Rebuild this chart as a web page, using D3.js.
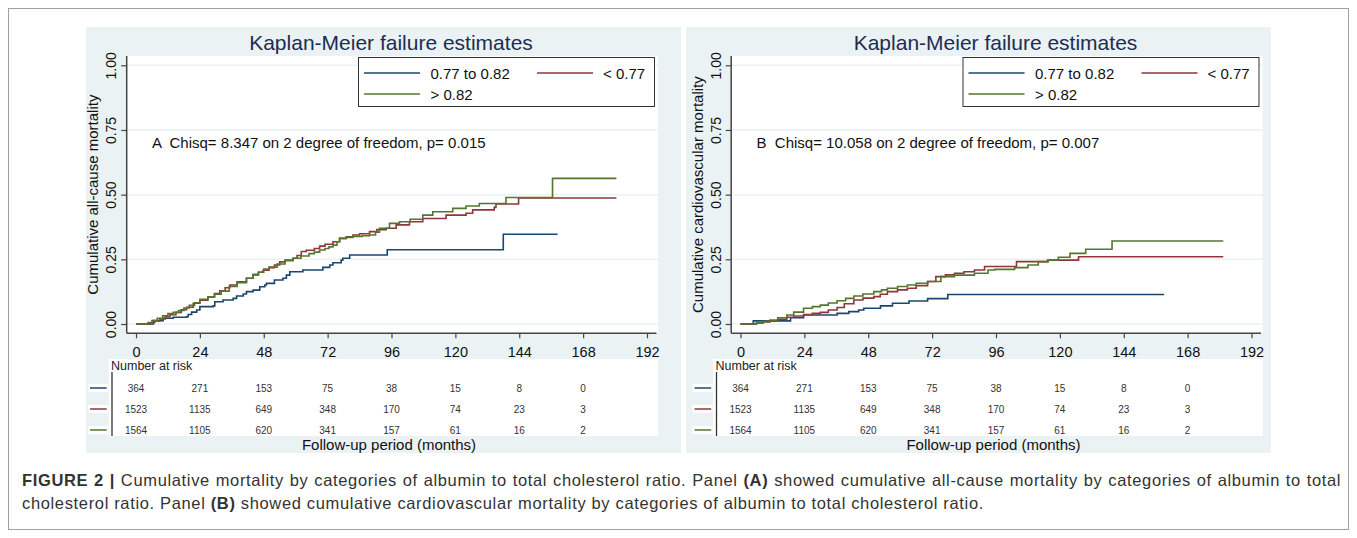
<!DOCTYPE html>
<html>
<head>
<meta charset="utf-8">
<script src="https://cdn.jsdelivr.net/npm/d3@7"></script>
<style>
  body { margin: 0; background: #fff; }
  svg text { font-family: "Liberation Sans", Arial, sans-serif; white-space: pre; }
</style>
</head>
<body>
<div id="chart"></div>
<script>
// Ticks and groups
const xTicks = [0, 24, 48, 72, 96, 120, 144, 168, 192];
const yTicks = [0, 0.25, 0.5, 0.75, 1];
const groupNames = ["0.77 to 0.82", "< 0.77", "> 0.82"];

// Number at risk (same in both panels)
const riskTimes = [0, 24, 48, 72, 96, 120, 144, 168];
const riskMid = [364, 271, 153, 75, 38, 15, 8, 0];
const riskLow = [1523, 1135, 649, 348, 170, 74, 23, 3];
const riskHigh = [1564, 1105, 620, 341, 157, 61, 16, 2];

// Panel A: all-cause mortality, [month, cumulative failure]
const allMid = [[0,0],[4.6,0],[6.5,0.013],[10.2,0.022],[14,0.026],[19,0.028],[19.6,0.037],[20.9,0.046],[22.8,0.054],[24,0.067],[29,0.07],[29.6,0.086],[32.7,0.093],[36.5,0.099],[37.8,0.108],[40.3,0.116],[41.5,0.125],[44,0.131],[46.5,0.144],[48.4,0.151],[49,0.157],[52,0.17],[55.2,0.177],[56.5,0.189],[57.8,0.202],[62.7,0.209],[70.2,0.219],[72.8,0.228],[74,0.237],[77.1,0.247],[77.7,0.254],[80.3,0.267],[94.4,0.287],[138,0.347],[158.4,0.347]];
const allLow = [[0,0],[3.4,0],[5.25,0.005],[7,0.012],[9,0.02],[11,0.028],[12.75,0.036],[15,0.045],[17,0.055],[19,0.065],[21.5,0.08],[24,0.092],[27,0.105],[29.5,0.118],[31.5,0.128],[33.5,0.14],[35.25,0.151],[38,0.163],[41.5,0.177],[44,0.19],[46,0.2],[47.75,0.208],[50,0.218],[52,0.228],[54,0.24],[56,0.247],[59,0.254],[60.5,0.265],[62.1,0.28],[64,0.285],[67,0.292],[69,0.301],[71,0.308],[74,0.318],[76.5,0.331],[79,0.337],[81.5,0.344],[84,0.349],[87.75,0.357],[90.5,0.365],[94,0.37],[97.75,0.383],[102.75,0.395],[107.75,0.408],[116.5,0.421],[124,0.428],[126.5,0.441],[134.6,0.451],[135.25,0.464],[143.75,0.487],[180.5,0.487]];
const allHigh = [[0,0],[2.5,0],[4.5,0.006],[6,0.013],[8,0.022],[10,0.032],[12,0.04],[14,0.045],[16,0.052],[18,0.062],[20,0.072],[22,0.082],[24,0.095],[27,0.105],[29.5,0.115],[32,0.127],[35,0.145],[38,0.16],[41.5,0.177],[44,0.192],[46,0.2],[48,0.212],[50,0.22],[53,0.232],[56,0.245],[59,0.254],[62,0.263],[65,0.272],[67,0.278],[69,0.286],[71,0.292],[72.5,0.298],[74,0.305],[75.5,0.318],[76.5,0.331],[79,0.335],[81.5,0.338],[85,0.341],[87.75,0.344],[90,0.355],[91.5,0.37],[95.25,0.389],[99,0.395],[103,0.405],[107.75,0.421],[111.5,0.434],[119,0.447],[124,0.456],[129,0.466],[139,0.489],[156.5,0.563],[180.5,0.563]];

// Panel B: cardiovascular mortality
const cvdMid = [[0,0],[3.5,0],[4.8,0.012],[18.8,0.024],[23.7,0.035],[36.3,0.041],[40.7,0.048],[44.4,0.054],[46.3,0.061],[52.6,0.07],[57.1,0.08],[63.3,0.089],[70.3,0.098],[77.9,0.114],[159.2,0.114]];
const cvdLow = [[0,0],[3.5,0],[6,0.004],[8.5,0.008],[11.1,0.012],[14,0.018],[17.4,0.026],[20,0.031],[23.7,0.037],[27,0.041],[30,0.045],[33,0.054],[36.3,0.064],[39,0.078],[42.6,0.093],[46,0.1],[50.1,0.106],[52.5,0.115],[55.2,0.125],[59,0.132],[62.7,0.138],[66,0.148],[70.3,0.164],[73.4,0.183],[77,0.19],[80.4,0.196],[84,0.202],[87.9,0.209],[91.7,0.222],[103.7,0.241],[115.4,0.247],[127,0.26],[181.4,0.26]];
const cvdHigh = [[0,0],[3.5,0],[6,0.005],[8.5,0.01],[11.1,0.015],[14,0.024],[17.4,0.035],[20,0.046],[23.7,0.061],[27,0.067],[30,0.073],[33,0.081],[36.3,0.09],[39.5,0.099],[42.6,0.108],[46,0.116],[50.1,0.125],[53,0.132],[55.2,0.138],[59,0.145],[62.7,0.151],[66,0.157],[70.3,0.164],[75.3,0.183],[80.4,0.189],[87.9,0.196],[93,0.209],[95.5,0.211],[103,0.218],[108,0.228],[111.9,0.241],[115.6,0.247],[119.4,0.258],[123.8,0.273],[129.7,0.289],[139.6,0.321],[181.4,0.321]];

const colors = ["#1a476f", "#90353b", "#55752f"];
const bg = "#eaf2f3";

const svg = d3.select("#chart").append("svg")
    .attr("width", 1357)
    .attr("height", 538);

// outer frame
svg.append("rect")
    .attr("x", 8.5).attr("y", 8.5)
    .attr("width", 1340).attr("height", 521)
    .attr("fill", "none").attr("stroke", "#a0a0a0");

// panel backgrounds
svg.append("rect").attr("x", 86).attr("y", 27).attr("width", 595).attr("height", 426).attr("fill", bg);
svg.append("rect").attr("x", 686).attr("y", 27).attr("width", 585).attr("height", 426).attr("fill", bg);

function drawPanel(dx, yTitle, note, series) {
    const g = svg.append("g").attr("transform", `translate(${dx},0)`);

    const x = d3.scaleLinear().domain([0, 192]).range([136, 647]);
    const y = d3.scaleLinear().domain([0, 1]).range([324, 65.3]);
    const left = 126.7, right = 658, top = 56, bottom = 333.3;

    // plot region
    g.append("rect")
        .attr("x", left).attr("y", top)
        .attr("width", right - left).attr("height", bottom - top)
        .attr("fill", "#fff");

    g.selectAll(".grid")
        .data(yTicks)
        .enter().append("line")
        .attr("x1", left).attr("x2", right)
        .attr("y1", d => y(d)).attr("y2", d => y(d))
        .attr("stroke", bg).attr("stroke-width", 1.5);

    // title
    g.append("text")
        .attr("x", 391).attr("y", 50)
        .attr("text-anchor", "middle")
        .style("font-size", "21px")
        .attr("fill", "#1c2e52")
        .text("Kaplan-Meier failure estimates");

    // curves
    const line = d3.line()
        .x(d => x(d[0]))
        .y(d => y(d[1]))
        .curve(d3.curveStepAfter);

    series.forEach((s, i) => {
        g.append("path")
            .datum(s)
            .attr("d", line)
            .attr("fill", "none")
            .attr("stroke", colors[i])
            .attr("stroke-width", 1.6);
    });

    // axes
    const yAxis = g.append("g")
        .attr("transform", `translate(${left},0)`)
        .call(d3.axisLeft(y).tickValues(yTicks).tickFormat(d3.format(".2f")).tickSize(5.5));
    yAxis.select(".domain").remove();
    yAxis.selectAll(".tick line").attr("stroke", "#444").attr("stroke-width", 1.2);
    yAxis.selectAll(".tick text")
        .attr("transform", "rotate(-90)")
        .attr("x", 0).attr("y", -10.5).attr("dy", 0)
        .attr("text-anchor", "middle")
        .attr("fill", "#111")
        .style("font-size", "14px")
        .style("font-family", "Liberation Sans, Arial, sans-serif");

    const xAxis = g.append("g")
        .attr("transform", `translate(0,${bottom})`)
        .call(d3.axisBottom(x).tickValues(xTicks).tickSize(5));
    xAxis.select(".domain").remove();
    xAxis.selectAll(".tick line").attr("stroke", "#444").attr("stroke-width", 1.2);
    xAxis.selectAll(".tick text")
        .attr("y", 23.5).attr("dy", 0)
        .attr("fill", "#111")
        .style("font-size", "14.5px")
        .style("font-family", "Liberation Sans, Arial, sans-serif");

    g.append("line")
        .attr("x1", left).attr("x2", left).attr("y1", top).attr("y2", bottom)
        .attr("stroke", "#444").attr("stroke-width", 1.5);
    g.append("line")
        .attr("x1", left).attr("x2", right - 1.5).attr("y1", bottom).attr("y2", bottom)
        .attr("stroke", "#444").attr("stroke-width", 1.5);

    // y title
    g.append("text")
        .attr("transform", `translate(98,${(top + bottom) / 2}) rotate(-90)`)
        .attr("text-anchor", "middle")
        .style("font-size", "15px")
        .attr("fill", "#111")
        .text(yTitle);

    // chi-square note
    g.append("text")
        .attr("x", 152).attr("y", 148)
        .style("font-size", "15px")
        .attr("fill", "#111")
        .text(note);

    // legend
    g.append("rect")
        .attr("x", 358.5).attr("y", 57.5)
        .attr("width", 296).attr("height", 49)
        .attr("fill", "#fff").attr("stroke", "#333").attr("stroke-width", 1);
    const keys = [
        { lx: 364, ty: 73, tx: 430.5 },
        { lx: 537, ty: 73, tx: 603 },
        { lx: 364, ty: 94, tx: 430.5 }
    ];
    keys.forEach((k, i) => {
        g.append("line")
            .attr("x1", k.lx).attr("x2", k.lx + 56)
            .attr("y1", k.ty).attr("y2", k.ty)
            .attr("stroke", colors[i]).attr("stroke-width", 1.6);
        g.append("text")
            .attr("x", k.tx).attr("y", k.ty + 5.5)
            .style("font-size", "15px")
            .attr("fill", "#111")
            .text(groupNames[i]);
    });

    // number at risk table
    g.append("rect")
        .attr("x", 108.7).attr("y", 359)
        .attr("width", 549.5).attr("height", 77)
        .attr("fill", "#fff");
    g.append("text")
        .attr("x", 111).attr("y", 369.5)
        .style("font-size", "12.5px")
        .attr("fill", "#222")
        .text("Number at risk");
    g.append("line")
        .attr("x1", 112).attr("x2", 112).attr("y1", 372).attr("y2", 436)
        .attr("stroke", "#333").attr("stroke-width", 1.3);

    const rows = [riskMid, riskLow, riskHigh];
    const rowY = [388, 409, 430];
    rows.forEach((r, i) => {
        g.append("rect")
            .attr("x", 88).attr("y", rowY[i] - 4)
            .attr("width", 20).attr("height", 8)
            .attr("fill", "#fff");
        g.append("line")
            .attr("x1", 90).attr("x2", 106.7)
            .attr("y1", rowY[i]).attr("y2", rowY[i])
            .attr("stroke", colors[i]).attr("stroke-width", 1.5);
        g.selectAll(null)
            .data(r)
            .enter().append("text")
            .attr("x", (d, j) => x(riskTimes[j]))
            .attr("y", rowY[i] + 3.6)
            .attr("text-anchor", "middle")
            .style("font-size", "10px")
            .attr("fill", "#333")
            .text(d => d);
    });

    g.append("text")
        .attr("x", 389).attr("y", 450)
        .attr("text-anchor", "middle")
        .style("font-size", "15px")
        .attr("fill", "#111")
        .text("Follow-up period (months)");
}

drawPanel(0, "Cumulative all-cause mortality",
    "A  Chisq= 8.347 on 2 degree of freedom, p= 0.015", [allMid, allLow, allHigh]);
drawPanel(604.5, "Cumulative cardiovascular mortality",
    "B  Chisq= 10.058 on 2 degree of freedom, p= 0.007", [cvdMid, cvdLow, cvdHigh]);

// caption (first line justified to full width)
const cap = svg.append("g").style("font-size", "16.5px").style("letter-spacing", "0.65px").attr("fill", "#333");
const line1 = cap.append("text").attr("x", 22).attr("y", 486).style("word-spacing", "0.6px");
line1.append("tspan").style("font-weight", "bold").text("FIGURE 2 | ");
line1.append("tspan").text("Cumulative mortality by categories of albumin to total cholesterol ratio. Panel ");
line1.append("tspan").style("font-weight", "bold").text("(A)");
line1.append("tspan").text(" showed cumulative all-cause mortality by categories of albumin to total");
const line2 = cap.append("text").attr("x", 22).attr("y", 509);
line2.append("tspan").text("cholesterol ratio. Panel ");
line2.append("tspan").style("font-weight", "bold").text("(B)");
line2.append("tspan").text(" showed cumulative cardiovascular mortality by categories of albumin to total cholesterol ratio.");
</script>
</body>
</html>
